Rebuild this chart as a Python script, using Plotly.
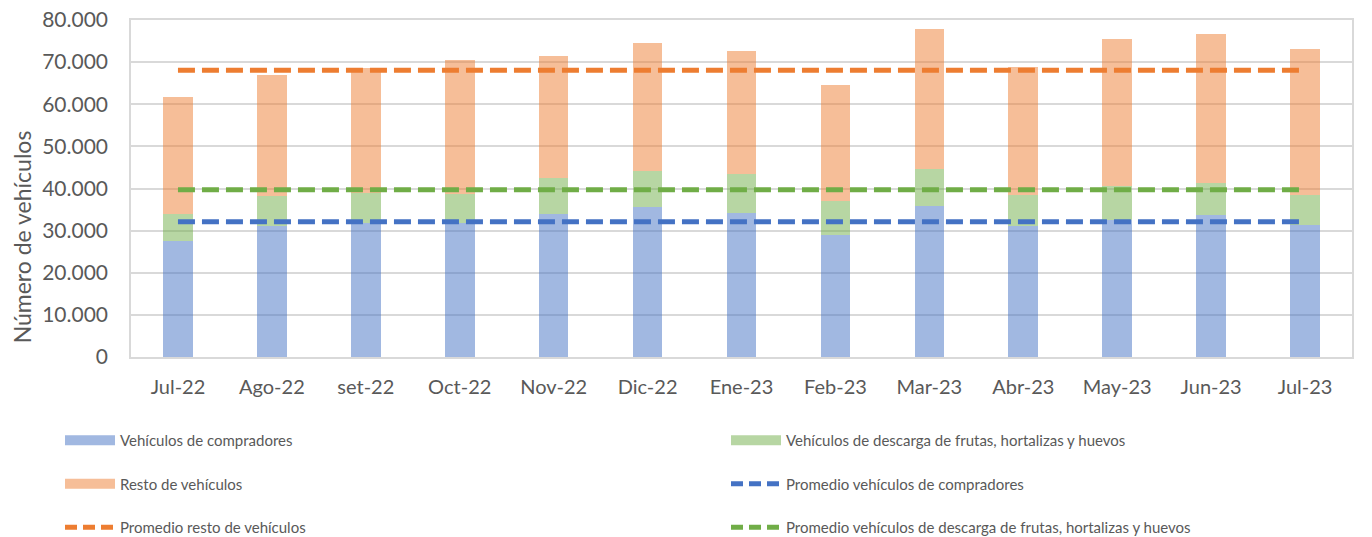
import plotly.graph_objects as go

meses = ["Jul-22", "Ago-22", "set-22", "Oct-22", "Nov-22", "Dic-22", "Ene-23",
         "Feb-23", "Mar-23", "Abr-23", "May-23", "Jun-23", "Jul-23"]
compradores = [27500, 31200, 31700, 31900, 34000, 35500, 34300, 29000, 35800, 31200, 32600, 33700, 31400]
descarga = [6500, 7000, 7200, 6900, 8500, 8700, 9200, 8100, 8900, 7300, 7900, 7600, 7100]
resto = [27800, 28800, 29700, 31700, 28900, 30400, 29200, 27400, 33200, 30400, 35000, 35300, 34500]
# levels at which the dashed average lines are drawn
nivel_prom_compradores = 32100
nivel_prom_descarga = 39700
nivel_prom_resto = 68100

y_ticks = [0, 10000, 20000, 30000, 40000, 50000, 60000, 70000, 80000]
y_titulo = "Número de vehículos"

AZUL, VERDE, NARANJA = "#4472C4", "#70AD47", "#ED7D31"
AZUL_T, VERDE_T, NARANJA_T = "rgba(68,114,196,0.5)", "rgba(112,173,71,0.5)", "rgba(237,125,49,0.5)"
FONT = "Lato"
GRIS = "#595959"

fig = go.Figure()
fig.add_bar(x=meses, y=compradores, marker=dict(color=AZUL_T, line=dict(width=0)), showlegend=False,
            name="Vehículos de compradores")
fig.add_bar(x=meses, y=descarga, marker=dict(color=VERDE_T, line=dict(width=0)), showlegend=False,
            name="Vehículos de descarga de frutas, hortalizas y huevos")
fig.add_bar(x=meses, y=resto, marker=dict(color=NARANJA_T, line=dict(width=0)), showlegend=False,
            name="Resto de vehículos")

dash = "17px,7px"
fig.add_scatter(x=meses, y=[nivel_prom_compradores] * len(meses), mode="lines",
                line=dict(color=AZUL, width=5, dash=dash), showlegend=False)
fig.add_scatter(x=meses, y=[nivel_prom_descarga] * len(meses), mode="lines",
                line=dict(color=VERDE, width=5, dash=dash), showlegend=False)
fig.add_scatter(x=meses, y=[nivel_prom_resto] * len(meses), mode="lines",
                line=dict(color=NARANJA, width=5, dash=dash), showlegend=False)

# legend entries: (name, color, width, dash, which legend)
leg = [
    ("Vehículos de compradores", AZUL_T, 12, "solid", "legend"),
    ("Resto de vehículos", NARANJA_T, 12, "solid", "legend"),
    ("Promedio resto de vehículos", NARANJA, 5, "12px,6px", "legend"),
    ("Vehículos de descarga de frutas, hortalizas y huevos", VERDE_T, 12, "solid", "legend2"),
    ("Promedio vehículos de compradores", AZUL, 5, "12px,6px", "legend2"),
    ("Promedio vehículos de descarga de frutas, hortalizas y huevos", VERDE, 5, "12px,6px", "legend2"),
]
for i, (name, col, w, d, lg) in enumerate(leg):
    fig.add_scatter(x=[None], y=[None], mode="lines", name=name, legend=lg, legendgroup=f"g{i}",
                    line=dict(color=col, width=w, dash=d), showlegend=True)

leg_common = dict(orientation="v", xref="container", yref="container", xanchor="left", yanchor="top",
                  traceorder="grouped", font=dict(size=15, color=GRIS), itemwidth=50,
                  tracegroupgap=21, bgcolor="rgba(0,0,0,0)")
fig.update_layout(
    width=1372, height=537,
    barmode="stack", bargap=0.684,
    separators=",.",
    plot_bgcolor="white", paper_bgcolor="white",
    margin=dict(l=123, r=28, t=12, b=188, autoexpand=False),
    font=dict(family=FONT, color=GRIS),
    legend=dict(x=52 / 1372, y=0.2253, **leg_common),
    legend2=dict(x=718 / 1372, y=0.2253, **leg_common),
)
fig.add_annotation(text=y_titulo, textangle=-90, xref="paper", yref="paper", x=0, y=0.355,
                   xanchor="center", yanchor="middle", xshift=-109, showarrow=False,
                   font=dict(size=23, color=GRIS, family=FONT))
fig.update_xaxes(showgrid=False, showline=True, linecolor="#D9D9D9", linewidth=1.5, mirror=True,
                 tickfont=dict(size=20, color=GRIS), ticklabelstandoff=11, range=[-0.5, 12.5])
fig.update_yaxes(range=[0, 80000], tickvals=y_ticks, tickformat=",d", ticklabeloverflow="allow",
                 showgrid=True, gridcolor="#D9D9D9", gridwidth=1.5,
                 showline=True, linecolor="#D9D9D9", linewidth=1.5, mirror=True, zeroline=False,
                 tickfont=dict(size=21, color=GRIS), ticklabelstandoff=17)

fig.write_html("out.html")
